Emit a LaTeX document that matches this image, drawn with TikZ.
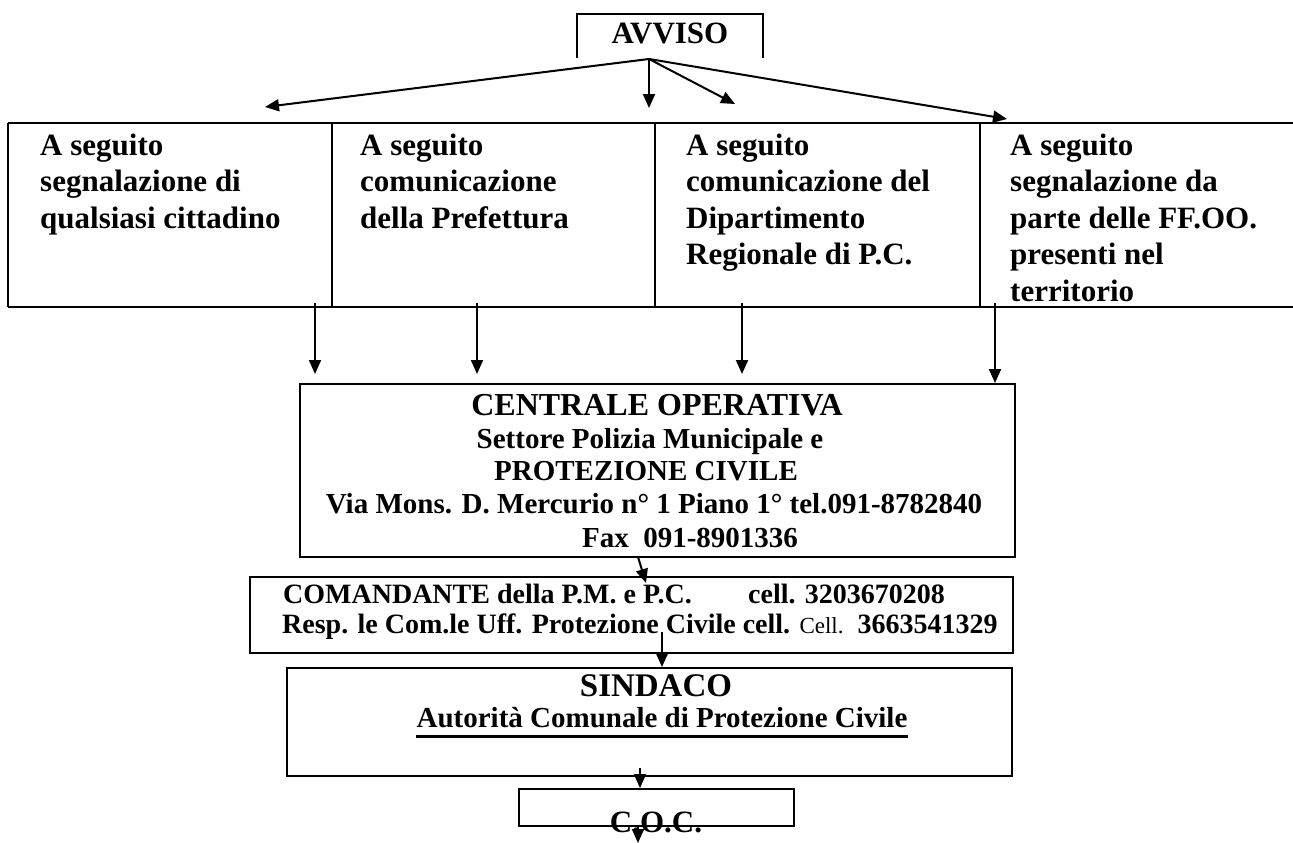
\documentclass[tikz,border=0pt]{standalone}
\usepackage{fontspec}
\setmainfont{Liberation Serif}
\usetikzlibrary{arrows.meta}

\tikzset{
  box/.style={draw, line width=2pt, inner sep=0pt},
  arr/.style={-{Triangle[length=14pt,width=12pt]}, line width=2pt},
  colt/.style={font=\bfseries\fontsize{31}{37}\selectfont, inner sep=0pt, anchor=base west},
  midt/.style={font=\bfseries\fontsize{29}{35}\selectfont, inner sep=0pt, anchor=base},
  comt/.style={font=\bfseries\fontsize{28}{33}\selectfont, inner sep=0pt, anchor=base west},
}

\begin{document}
\begin{tikzpicture}[x=1pt,y=-1pt]
\useasboundingbox (0,0) rectangle (1293,843);

% avviso, open at the bottom
\draw[line width=2pt] (577,58) -- (577,14) -- (763,14) -- (763,58);
\node[midt, font=\bfseries\fontsize{31}{37}\selectfont] (avv) at (670,44) {AVVISO};
\coordinate (apex) at (649,59);
\coordinate (tl) at (265,107);
\coordinate (td) at (649,108);
\coordinate (tm) at (735,104);
\coordinate (tr) at (1007,119);
\draw[arr] (apex) -- (tl);
\draw[arr] (apex) -- (td);
\draw[arr] (apex) -- (tm);
\draw[arr] (apex) -- (tr);

% table of the four sources
\draw[line width=2.5pt] (8,123) -- (1293,123);
\draw[line width=2.5pt] (8,307) -- (1293,307);
\draw[line width=2.5pt] (8,123) -- (8,307);
\draw[line width=2pt] (332,123) -- (332,307);
\draw[line width=2pt] (655,123) -- (655,307);
\draw[line width=2pt] (980,123) -- (980,307);

\node[colt] (a1) at (40,155) {A seguito};
\node[colt] (a2) at (40,191.5) {segnalazione di};
\node[colt] (a3) at (40,228) {qualsiasi cittadino};
\node[colt] (b1) at (360,155) {A seguito};
\node[colt] (b2) at (360,191.5) {comunicazione};
\node[colt] (b3) at (360,228) {della Prefettura};
\node[colt] (c1) at (686,155) {A seguito};
\node[colt] (c2) at (686,191.5) {comunicazione del};
\node[colt] (c3) at (686,228) {Dipartimento};
\node[colt] (c4) at (686,264.5) {Regionale di P.C.};
\node[colt] (d1) at (1010,155) {A seguito};
\node[colt] (d2) at (1010,191.5) {segnalazione da};
\node[colt] (d3) at (1010,228) {parte delle FF.OO.};
\node[colt] (d4) at (1010,264.5) {presenti nel};
\node[colt] (d5) at (1010,301) {territorio};

% centrale operativa
\node[box, minimum width=715pt, minimum height=173pt] (cen) at (657.5,470.5) {};
\node[midt, font=\bfseries\fontsize{32}{37}\selectfont] (cen1) at (657,415) {CENTRALE OPERATIVA};
\node[midt] (cen2) at (650,448) {Settore Polizia Municipale e};
\node[midt] (cen3) at (646,480) {PROTEZIONE CIVILE};
\node[midt] (cen4) at (654,513) {Via Mons. D. Mercurio n° 1 Piano 1° tel.091-8782840};
\node[midt] (cen5) at (690,547) {Fax\ \ 091-8901336};

\coordinate (s1) at (315,303);
\coordinate (s2) at (477,303);
\coordinate (s3) at (742,303);
\coordinate (s4) at (995,303);
\draw[arr, shorten >=9pt] (s1) -- (s1 |- cen.north);
\draw[arr, shorten >=9pt] (s2) -- (s2 |- cen.north);
\draw[arr, shorten >=9pt] (s3) -- (s3 |- cen.north);
\draw[arr] (s4) -- (s4 |- cen.north);

% comandante
\node[box, minimum width=763pt, minimum height=76pt] (com) at (631.5,615) {};
\node[comt] (com1) at (283,603) {COMANDANTE della P.M. e P.C.};
\node[comt] (com2) at (748,603) {cell. 3203670208};
\node[comt] (com3) at (282,633) {Resp. le Com.le Uff. Protezione Civile cell. {\mdseries\fontsize{23}{28}\selectfont Cell.}\ \ 3663541329};
\coordinate (k1) at (638,557);
\coordinate (k2) at (646,583);
\draw[arr] (k1) -- (k2);

% sindaco
\node[box, minimum width=725pt, minimum height=108pt] (sin) at (649.5,722) {};
\node[midt, font=\bfseries\fontsize{33}{38}\selectfont] (sin1) at (656,696) {SINDACO};
\node[midt] (aut) at (662,727) {Autorità Comunale di Protezione Civile};
\draw[line width=3pt] ([yshift=-9pt]aut.base west) -- ([yshift=-9pt]aut.base east);
\coordinate (k3) at (662,632);
\draw[arr] (k3) -- (k3 |- sin.north);

% c.o.c.
\node[box, minimum width=275pt, minimum height=37pt] (coc) at (656.5,807.5) {};
\node[midt, font=\bfseries\fontsize{31}{37}\selectfont] (coc1) at (656,832) {C.O.C.};
\coordinate (k4) at (640,768);
\draw[arr] (k4) -- (k4 |- coc.north);
\coordinate (k5) at (638,826);
\coordinate (k6) at (638,843);
\draw[arr] (k5) -- (k6);
\end{tikzpicture}
\end{document}
